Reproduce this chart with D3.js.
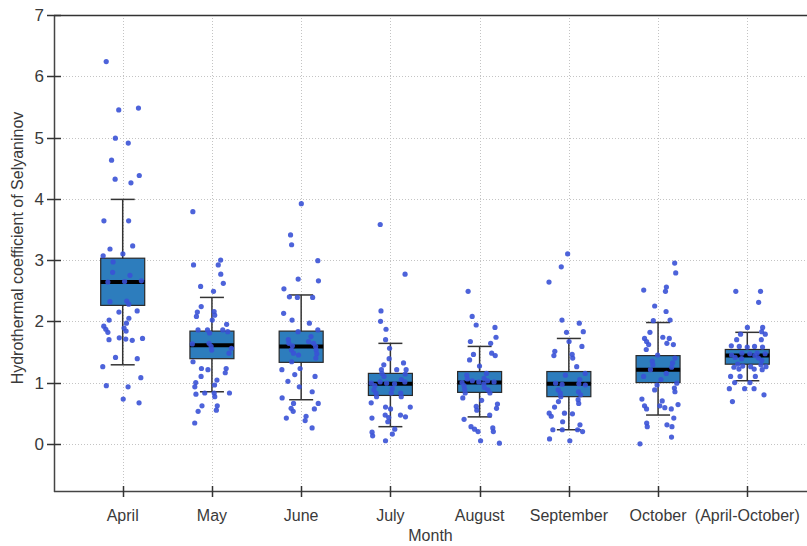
<!DOCTYPE html>
<html>
<head>
<meta charset="utf-8">
<script src="https://cdn.jsdelivr.net/npm/d3@7"></script>
<style>
  body { margin: 0; background: #fff; }
  .tick-label { font-family: "Liberation Sans Narrow", "Arial Narrow", "Liberation Sans", sans-serif; fill: #3a3a3a; }
</style>
</head>
<body>
<div id="chart"></div>
<script>
var width = 807, height = 546,
    plot = { left: 54, right: 816, top: 15, bottom: 491 },
    boxHalf = 22,
    capHalf = 12,
    jitterWidth = 40;

// categories
var months = ["April", "May", "June", "July", "August", "September", "October", "(April-October)"];

// box statistics
var q1       = [2.26, 1.39, 1.33, 0.79, 0.84, 0.77, 1.00, 1.30];
var medians  = [2.64, 1.61, 1.59, 0.98, 1.00, 0.98, 1.21, 1.44];
var q3       = [3.03, 1.84, 1.84, 1.15, 1.18, 1.18, 1.44, 1.54];
var whiskLo  = [1.29, 0.85, 0.72, 0.28, 0.44, 0.23, 0.47, 1.03];
var whiskHi  = [3.99, 2.39, 2.43, 1.64, 1.59, 1.72, 1.98, 1.82];

// individual yearly values per month
var aprilVals = [6.24, 5.48, 5.45, 4.99, 4.91, 4.63, 4.38, 4.32, 4.26, 3.64, 3.64, 3.23, 3.18, 3.10, 3.07, 2.97,
    2.80, 2.75, 2.66, 2.65, 2.64, 2.33, 2.32, 2.28, 2.17, 2.15, 2.05, 2.02, 1.97, 1.92, 1.89, 1.87, 1.84, 1.82,
    1.73, 1.72, 1.71, 1.70, 1.69, 1.41, 1.39, 1.26, 1.08, 0.95, 0.93, 0.73, 0.67];
var mayVals = [3.79, 3.00, 2.92, 2.92, 2.77, 2.62, 2.57, 2.49, 2.24, 2.16, 2.15, 2.10, 2.08, 2.02, 1.95, 1.86,
    1.86, 1.86, 1.83, 1.81, 1.64, 1.63, 1.59, 1.56, 1.53, 1.48, 1.34, 1.23, 1.23, 1.21, 1.16, 1.10, 1.04, 1.00,
    0.96, 0.93, 0.83, 0.83, 0.83, 0.81, 0.77, 0.62, 0.62, 0.55, 0.53, 0.34];
var juneVals = [3.92, 3.41, 3.25, 2.99, 2.69, 2.66, 2.53, 2.40, 2.39, 2.39, 2.13, 2.02, 1.97, 1.86, 1.83, 1.75,
    1.70, 1.67, 1.64, 1.64, 1.60, 1.59, 1.53, 1.53, 1.48, 1.47, 1.45, 1.40, 1.34, 1.23, 1.21, 1.13, 1.10, 1.02,
    0.93, 0.85, 0.75, 0.66, 0.66, 0.58, 0.57, 0.53, 0.45, 0.42, 0.38, 0.26];
var julyVals = [3.58, 2.77, 2.17, 2.00, 1.87, 1.70, 1.56, 1.39, 1.32, 1.29, 1.21, 1.21, 1.21, 1.15, 1.14, 1.10,
    1.05, 1.01, 1.01, 0.99, 0.99, 0.98, 0.95, 0.90, 0.88, 0.83, 0.83, 0.83, 0.77, 0.77, 0.67, 0.60, 0.60, 0.57,
    0.47, 0.47, 0.44, 0.43, 0.42, 0.36, 0.24, 0.19, 0.16, 0.13, 0.05];
var augustVals = [2.49, 2.08, 1.94, 1.90, 1.74, 1.67, 1.64, 1.48, 1.46, 1.44, 1.37, 1.27, 1.15, 1.12, 1.07, 1.06,
    1.03, 1.03, 1.01, 1.01, 1.00, 0.98, 0.95, 0.92, 0.89, 0.88, 0.83, 0.83, 0.75, 0.71, 0.65, 0.61, 0.58, 0.55,
    0.47, 0.40, 0.28, 0.26, 0.24, 0.20, 0.20, 0.05, 0.01];
var septemberVals = [3.10, 2.89, 2.64, 2.02, 1.97, 1.83, 1.82, 1.67, 1.59, 1.51, 1.46, 1.44, 1.40, 1.26, 1.15,
    1.12, 1.05, 0.99, 0.98, 0.97, 0.96, 0.88, 0.85, 0.83, 0.80, 0.77, 0.72, 0.69, 0.66, 0.60, 0.50, 0.50, 0.49,
    0.45, 0.36, 0.31, 0.23, 0.23, 0.23, 0.20, 0.08, 0.05];
var octoberVals = [2.95, 2.79, 2.56, 2.51, 2.49, 2.25, 2.16, 2.02, 2.01, 1.82, 1.74, 1.72, 1.72, 1.67, 1.64, 1.62,
    1.62, 1.54, 1.45, 1.40, 1.35, 1.32, 1.29, 1.25, 1.21, 1.15, 1.10, 1.05, 0.99, 0.96, 0.91, 0.88, 0.85, 0.73,
    0.70, 0.64, 0.62, 0.62, 0.59, 0.57, 0.57, 0.42, 0.34, 0.31, 0.28, 0.28, 0.11, 0.00];
var seasonVals = [2.49, 2.49, 2.31, 1.90, 1.90, 1.83, 1.79, 1.79, 1.70, 1.70, 1.60, 1.59, 1.59, 1.58, 1.58, 1.48,
    1.48, 1.47, 1.47, 1.45, 1.44, 1.41, 1.40, 1.39, 1.36, 1.30, 1.29, 1.27, 1.26, 1.26, 1.25, 1.22, 1.22, 1.21,
    1.10, 1.10, 1.10, 1.00, 1.00, 0.90, 0.90, 0.90, 0.80, 0.69];

var yTicks = [0, 1, 2, 3, 4, 5, 6, 7];
var yLabel = "Hydrothermal coefficient of Selyaninov",
    xLabel = "Month";

var allVals = [aprilVals, mayVals, juneVals, julyVals, augustVals, septemberVals, octoberVals, seasonVals];

var boxes = months.map(function(m, i) {
    return { month: m, q1: q1[i], median: medians[i], q3: q3[i], lo: whiskLo[i], hi: whiskHi[i] };
});
var points = [];
months.forEach(function(m, i) {
    allVals[i].forEach(function(v, j) { points.push({ month: m, value: v, idx: j }); });
});

var svg = d3.select("#chart").append("svg")
    .attr("width", width)
    .attr("height", height)
    .style("display", "block");

svg.append("rect").attr("width", width).attr("height", height).attr("fill", "#fff");

var x = d3.scalePoint()
    .domain(months)
    .range([plot.left, plot.right])
    .padding(0.77);

var y = d3.scaleLinear()
    .domain([-0.77, 7])
    .range([plot.bottom, plot.top]);

// dotted grid
svg.append("g").selectAll("line.hgrid")
    .data(yTicks)
    .enter().append("line")
    .attr("x1", plot.left).attr("x2", width)
    .attr("y1", function(d) { return Math.round(y(d)) + 0.5; })
    .attr("y2", function(d) { return Math.round(y(d)) + 0.5; })
    .attr("stroke", "#c4c4c4")
    .attr("stroke-dasharray", "1,2");

svg.append("g").selectAll("line.vgrid")
    .data(months)
    .enter().append("line")
    .attr("x1", function(d) { return Math.round(x(d)) + 0.5; })
    .attr("x2", function(d) { return Math.round(x(d)) + 0.5; })
    .attr("y1", plot.top).attr("y2", plot.bottom)
    .attr("stroke", "#c4c4c4")
    .attr("stroke-dasharray", "1,2");

// frame
svg.append("line").attr("x1", plot.left).attr("x2", width).attr("y1", plot.top + 0.5).attr("y2", plot.top + 0.5)
    .attr("stroke", "#333").attr("stroke-width", 1.5);
svg.append("line").attr("x1", plot.left).attr("x2", width).attr("y1", plot.bottom + 0.5).attr("y2", plot.bottom + 0.5)
    .attr("stroke", "#444").attr("stroke-width", 1.5);
svg.append("line").attr("x1", plot.left + 0.5).attr("x2", plot.left + 0.5).attr("y1", plot.top).attr("y2", plot.bottom + 1)
    .attr("stroke", "#444").attr("stroke-width", 1.5);

// y ticks + labels
var yAxis = svg.append("g");
yAxis.selectAll("line")
    .data(yTicks)
    .enter().append("line")
    .attr("x1", plot.left - 7).attr("x2", plot.left + 7)
    .attr("y1", function(d) { return Math.round(y(d)) + 0.5; })
    .attr("y2", function(d) { return Math.round(y(d)) + 0.5; })
    .attr("stroke", "#333").attr("stroke-width", 1.5);
yAxis.selectAll("text")
    .data(yTicks)
    .enter().append("text")
    .attr("class", "tick-label")
    .attr("x", plot.left - 10)
    .attr("y", function(d) { return y(d); })
    .attr("dy", "0.36em")
    .attr("text-anchor", "end")
    .style("font-size", "17px")
    .text(function(d) { return d; });

// x ticks + labels
var xAxis = svg.append("g");
xAxis.selectAll("line")
    .data(months)
    .enter().append("line")
    .attr("x1", function(d) { return Math.round(x(d)) + 0.5; })
    .attr("x2", function(d) { return Math.round(x(d)) + 0.5; })
    .attr("y1", plot.bottom - 5).attr("y2", plot.bottom + 6)
    .attr("stroke", "#333").attr("stroke-width", 1.5);
xAxis.selectAll("text")
    .data(months)
    .enter().append("text")
    .attr("class", "tick-label")
    .attr("x", function(d) { return x(d); })
    .attr("y", 521)
    .attr("text-anchor", "middle")
    .style("font-size", "16px")
    .text(function(d) { return d; });

svg.append("text")
    .attr("class", "tick-label")
    .attr("x", (plot.left + width) / 2)
    .attr("y", 541)
    .attr("text-anchor", "middle")
    .style("font-size", "16px")
    .text(xLabel);

svg.append("text")
    .attr("class", "tick-label")
    .attr("transform", "translate(23," + 248 + ") rotate(-90)")
    .attr("text-anchor", "middle")
    .style("font-size", "16px")
    .text(yLabel);

// whiskers
var bx = svg.append("g").selectAll("g.box")
    .data(boxes)
    .enter().append("g")
    .attr("class", "box");

bx.append("line")
    .attr("x1", function(d) { return x(d.month); })
    .attr("x2", function(d) { return x(d.month); })
    .attr("y1", function(d) { return y(d.hi); })
    .attr("y2", function(d) { return y(d.lo); })
    .attr("stroke", "#333").attr("stroke-width", 1.5);

bx.selectAll("line.cap")
    .data(function(d) { return [d, d].map(function(e, k) { return { month: e.month, v: k ? e.lo : e.hi }; }); })
    .enter().append("line")
    .attr("class", "cap")
    .attr("x1", function(d) { return x(d.month) - capHalf; })
    .attr("x2", function(d) { return x(d.month) + capHalf; })
    .attr("y1", function(d) { return y(d.v); })
    .attr("y2", function(d) { return y(d.v); })
    .attr("stroke", "#333").attr("stroke-width", 1.5);

bx.append("rect")
    .attr("x", function(d) { return x(d.month) - boxHalf; })
    .attr("y", function(d) { return y(d.q3); })
    .attr("width", boxHalf * 2)
    .attr("height", function(d) { return y(d.q1) - y(d.q3); })
    .attr("fill", "#2d7dbd")
    .attr("stroke", "#2a2a2a")
    .attr("stroke-width", 1.2);

bx.append("line")
    .attr("x1", function(d) { return x(d.month) - boxHalf; })
    .attr("x2", function(d) { return x(d.month) + boxHalf; })
    .attr("y1", function(d) { return y(d.median); })
    .attr("y2", function(d) { return y(d.median); })
    .attr("stroke", "#000").attr("stroke-width", 4);

// jittered points
svg.append("g").selectAll("circle")
    .data(points)
    .enter().append("circle")
    .attr("cx", function(d) {
        var f = (d.idx * 0.6180339887 + d.value * 3.7) % 1;
        return x(d.month) + (f - 0.5) * jitterWidth;
    })
    .attr("cy", function(d) { return y(d.value); })
    .attr("r", 2.6)
    .attr("fill", "#3a52d6")
    .attr("fill-opacity", 0.9);
</script>
</body>
</html>
